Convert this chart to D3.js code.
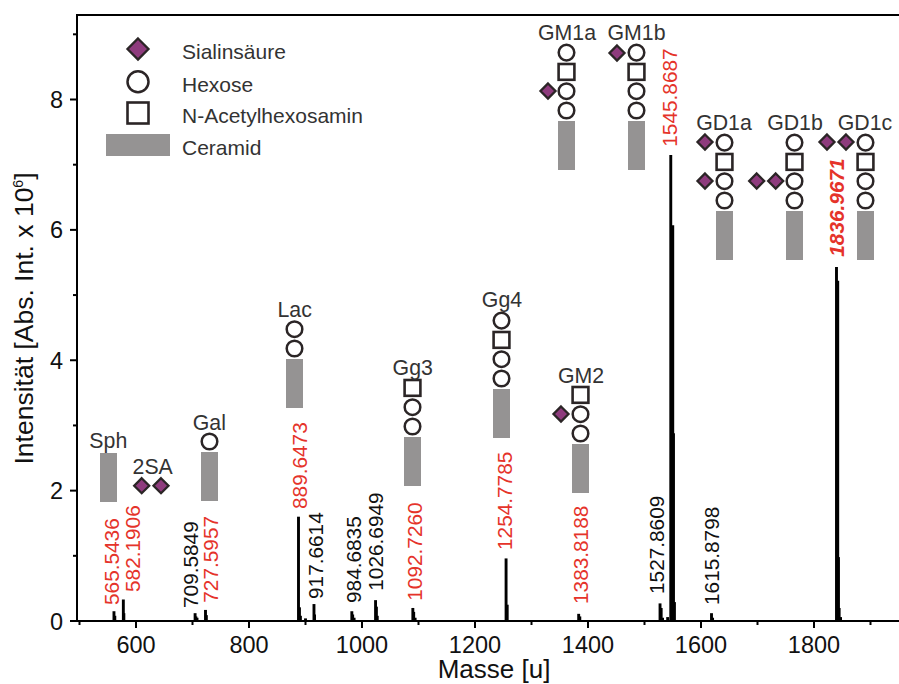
<!DOCTYPE html>
<html><head><meta charset="utf-8">
<script src="https://cdn.jsdelivr.net/npm/d3@7/dist/d3.min.js"></script>
<style>html,body{margin:0;padding:0;background:#fff}svg{display:block}text{font-family:"Liberation Sans",Arial,sans-serif}</style>
</head><body><svg id="c" width="899" height="684"></svg>
<script>
// ---- data ----
const peakMasses = [561,562.5,577.6,578.5,704.6,706,708,723,724.5,887.6,889.3,891,900,915,916,982,983.5,986,1024,1025.5,1027,1090,1091.5,1094,1255,1257,1383.5,1385.5,1527.5,1529.5,1532,1541,1546.5,1550,1551.3,1553,1618.6,1620.5,1839.8,1842,1843.3,1844.5,1847];
const peakValues = [0.15,0.08,0.33,0.12,0.12,0.07,0.05,0.17,0.09,1.6,0.21,0.08,0.04,0.26,0.1,0.15,0.1,0.05,0.32,0.22,0.08,0.2,0.14,0.05,0.96,0.25,0.11,0.07,0.27,0.2,0.05,0.06,7.15,6.07,2.88,0.29,0.12,0.05,5.43,5.22,0.98,0.2,0.06];
const xMajor = [600,800,1000,1200,1400,1600,1800];
const xMinor = [500,700,900,1100,1300,1500,1700,1900];
const yMajor = [0,2,4,6,8];
const yMinor = [1,3,5,7,9];
const massLabels = ["565.5436","582.1906","709.5849","727.5957","889.6473","917.6614","984.6835","1026.6949","1092.7260","1254.7785","1383.8188","1527.8609","1545.8687","1615.8798","1836.9671"];
const massLabelRed = [1,1,0,1,1,0,0,0,1,1,1,0,1,0,1];
const legendNames = ["Sialinsäure","Hexose","N-Acetylhexosamin","Ceramid"];
const glycanNames = ["Sph","Gal","Lac","Gg3","Gg4","GM2","GM1a","GM1b","GD1a","GD1b","GD1c"];
// residues from the top of each stack: o hexose, s N-acetylhexosamine
const glycanStacks = ["","o","oo","soo","osoo","soo","osoo","osoo","osoo","osoo","osoo"];

// ---- layout ----
const W=899,H=684,left=77,top0=15,bottom=621;
const x=d3.scaleLinear().domain([600,1800]).range([136,814]);
const y=d3.scaleLinear().domain([0,8]).range([bottom,99.5]);
const labelRight=[119,140,198,217.7,306.7,323,360.7,382.7,421.7,511.7,588.3,664,676.7,718.7,844];
const labelBottom=[605,592,608,602.7,509,599,603,590.7,600.7,550,604,594,146.7,605,256.7];
const glyCx=[108.5,209.5,294.5,412.5,501.5,580.5,566.5,636.5,724.5,794.5,865.5];
const ceramidTop=[453,452,359,437,389,444,121,121,211,211,211];
const titleX=[108.3,209.3,294.7,412.7,502,581,567,636.5,724,795,865];
const titleY=[447.7,430,316.7,375,307,382.7,40,40,130,130,130];
const diamonds=[[141.7,485.7],[161,485.7],[561,414],[548,91],[617,53],[705,142],[705,181],[756.7,181],[775.7,181],[827,142],[846,142]];
const red="#e5332a",ink="#000",dk="#2b2526",purple="#8e3b7d",grey="#959393",txt="#333";

const svg=d3.select("#c");
// spectrum
const line=d3.line();
svg.append("g").selectAll("path").data(peakMasses).join("path")
 .attr("d",(m,i)=>line([[x(m),y(0)],[x(m),y(peakValues[i])]]))
 .attr("stroke",ink).attr("stroke-width",2.9).attr("fill","none");
// axes
const g=svg.append("g").attr("stroke",ink).attr("stroke-width",2);
g.append("line").attr("x1",left).attr("x2",left).attr("y1",top0-1).attr("y2",bottom+1);
g.append("line").attr("x1",left-1).attr("x2",W).attr("y1",top0).attr("y2",top0);
g.append("line").attr("x1",left-1).attr("x2",W).attr("y1",bottom).attr("y2",bottom);
g.selectAll(".xM").data(xMajor).join("line").attr("class","xM").attr("x1",x).attr("x2",x).attr("y1",bottom).attr("y2",bottom+7);
g.selectAll(".xm").data(xMinor.filter(v=>x(v)>left)).join("line").attr("class","xm").attr("x1",x).attr("x2",x).attr("y1",bottom).attr("y2",bottom+4);
g.selectAll(".yM").data(yMajor).join("line").attr("class","yM").attr("y1",y).attr("y2",y).attr("x1",left-7).attr("x2",left);
g.selectAll(".ym").data(yMinor).join("line").attr("class","ym").attr("y1",y).attr("y2",y).attr("x1",left-4).attr("x2",left);
const tickFont=23.5;
svg.append("g").selectAll("text").data(xMajor).join("text").attr("x",x).attr("y",bottom+32).attr("text-anchor","middle").attr("font-size",tickFont).attr("fill","#111").text(d=>d);
svg.append("g").selectAll("text").data(yMajor).join("text").attr("x",63).attr("y",d=>y(d)+8.5).attr("text-anchor","end").attr("font-size",tickFont).attr("fill","#111").text(d=>d);
svg.append("text").attr("x",494).attr("y",677.5).attr("text-anchor","middle").attr("font-size",26).attr("fill","#111").text("Masse [u]");
const yt=svg.append("text").attr("transform","translate(33,318.5) rotate(-90)").attr("text-anchor","middle").attr("font-size",26.5).attr("fill","#111");
yt.append("tspan").text("Intensität [Abs. Int. x 10");
yt.append("tspan").attr("font-size",14).attr("dy",-10).text("6");
yt.append("tspan").attr("dy",10).text("]");
// mass labels
svg.append("g").selectAll("text").data(massLabels).join("text")
 .attr("transform",(d,i)=>`translate(${labelRight[i]},${labelBottom[i]}) rotate(-90)`)
 .attr("font-size",20.8).attr("fill",(d,i)=>massLabelRed[i]?red:"#111")
 .attr("font-weight",d=>d==="1836.9671"?"bold":null).attr("font-style",d=>d==="1836.9671"?"italic":null)
 .text(d=>d);
// glycans
const cerW=17,cerH=49,r=7.8,side=15.8,gap=19.3;
glycanNames.forEach((n,i)=>{
  const gg=svg.append("g");
  gg.append("rect").attr("x",glyCx[i]-cerW/2).attr("y",ceramidTop[i]).attr("width",cerW).attr("height",cerH).attr("fill",grey);
  const st=glycanStacks[i];
  [...st].forEach((c,k)=>{
    const cy=ceramidTop[i]-10.5-(st.length-1-k)*gap;
    if(c==="o") gg.append("circle").attr("cx",glyCx[i]).attr("cy",cy).attr("r",r).attr("fill","#fff").attr("stroke",dk).attr("stroke-width",2.5);
    else gg.append("rect").attr("x",glyCx[i]-side/2).attr("y",cy-side/2).attr("width",side).attr("height",side).attr("fill","#fff").attr("stroke",dk).attr("stroke-width",2.6);
  });
  gg.append("text").attr("x",titleX[i]).attr("y",titleY[i]).attr("text-anchor","middle").attr("font-size",21.3).attr("fill",txt).text(n);
});
svg.append("text").attr("x",152.7).attr("y",474).attr("text-anchor","middle").attr("font-size",21.3).attr("fill",txt).text("2SA");
const dia=(s,cx,cy,a)=>s.append("path").attr("d",`M${cx},${cy-a}L${cx+a},${cy}L${cx},${cy+a}L${cx-a},${cy}Z`).attr("fill",purple).attr("stroke",dk).attr("stroke-width",2.3);
diamonds.forEach(d=>dia(svg,d[0],d[1],7.5));
// legend
const legY=[59,92,123,155];
svg.append("g").selectAll("text").data(legendNames).join("text").attr("x",182).attr("y",(d,i)=>legY[i]).attr("font-size",21).attr("fill",txt).text(d=>d);
dia(svg,138,49,10.5);
svg.append("circle").attr("cx",138).attr("cy",81.7).attr("r",10.5).attr("fill","#fff").attr("stroke",dk).attr("stroke-width",2.5);
svg.append("rect").attr("x",127.5).attr("y",102.5).attr("width",21).attr("height",21).attr("fill","#fff").attr("stroke",dk).attr("stroke-width",2.6);
svg.append("rect").attr("x",106).attr("y",134).attr("width",64).attr("height",22).attr("fill",grey);
</script></body></html>
